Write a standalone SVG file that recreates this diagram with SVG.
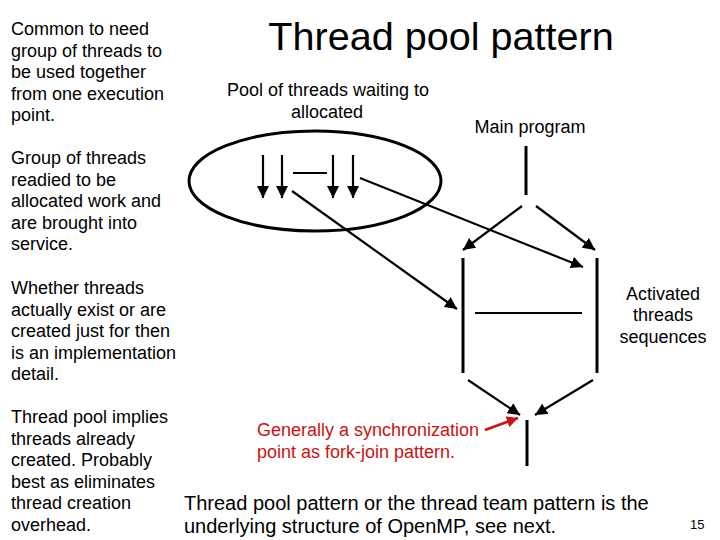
<svg xmlns="http://www.w3.org/2000/svg" width="720" height="540" viewBox="0 0 720 540">
<style>
text{font-family:"Liberation Sans",Arial,sans-serif;fill:#000}
.t18{font-size:18px}
.red{fill:#cc1111}
.ln{stroke:#000;stroke-width:3;fill:none}
.ar{stroke:#000;stroke-width:2.2;fill:none;marker-end:url(#ah)}
.arr{stroke:#cc1111;stroke-width:2.5;fill:none;marker-end:url(#ahr)}
</style>
<defs>
<marker id="ah" viewBox="0 0 10 10" refX="10" refY="5" markerWidth="5.5" markerHeight="5.5" orient="auto" markerUnits="strokeWidth">
<path d="M0,0 L10,5 L0,10 z" fill="#000"/>
</marker>
<marker id="ahr" viewBox="0 0 10 10" refX="10" refY="5" markerWidth="4.5" markerHeight="4.5" orient="auto" markerUnits="strokeWidth">
<path d="M0,0 L10,5 L0,10 z" fill="#cc1111"/>
</marker>
</defs>
<rect width="720" height="540" fill="#fff"/>
<g id="title"><text x="441" y="50" font-size="39.6" text-anchor="middle">Thread pool pattern</text></g>
<g id="note1" class="t18">
<text x="11" y="35">Common to need</text>
<text x="11" y="56.5">group of threads to</text>
<text x="11" y="78">be used together</text>
<text x="11" y="99.5">from one execution</text>
<text x="11" y="121">point.</text>
</g>
<g id="note2" class="t18">
<text x="11" y="164">Group of threads</text>
<text x="11" y="185.5">readied to be</text>
<text x="11" y="207">allocated work and</text>
<text x="11" y="228.5">are brought into</text>
<text x="11" y="250">service.</text>
</g>
<g id="note3" class="t18">
<text x="11" y="294">Whether threads</text>
<text x="11" y="315.5">actually exist or are</text>
<text x="11" y="337">created just for then</text>
<text x="11" y="358.5">is an implementation</text>
<text x="11" y="380">detail.</text>
</g>
<g id="note4" class="t18">
<text x="11" y="423">Thread pool implies</text>
<text x="11" y="444.5">threads already</text>
<text x="11" y="466">created. Probably</text>
<text x="11" y="487.5">best as eliminates</text>
<text x="11" y="509">thread creation</text>
<text x="11" y="530.5">overhead.</text>
</g>
<g id="pool-label" class="t18">
<text x="328" y="96" text-anchor="middle">Pool of threads waiting to</text>
<text x="327" y="117.5" text-anchor="middle">allocated</text>
</g>
<g id="pool">
<ellipse cx="315" cy="181" rx="126" ry="50" class="ln"/>
<line x1="263" y1="155" x2="263" y2="198" class="ar"/>
<line x1="282" y1="155" x2="282" y2="198" class="ar"/>
<line x1="333" y1="155" x2="333" y2="198" class="ar"/>
<line x1="353" y1="155" x2="353" y2="198" class="ar"/>
<line x1="293" y1="173" x2="327" y2="173" stroke="#000" stroke-width="2"/>
</g>
<g id="main-label"><text x="530" y="133" class="t18" text-anchor="middle">Main program</text></g>
<g id="main-program">
<line x1="526" y1="146" x2="526" y2="195" class="ln"/>
</g>
<g id="threads">
<line x1="463" y1="258" x2="463" y2="373" class="ln"/>
<line x1="597" y1="258" x2="597" y2="373" class="ln"/>
<line x1="475" y1="313" x2="582" y2="313" stroke="#000" stroke-width="2"/>
</g>
<g id="activated-label" class="t18">
<text x="663" y="299.5" text-anchor="middle">Activated</text>
<text x="663" y="321" text-anchor="middle">threads</text>
<text x="663" y="343" text-anchor="middle">sequences</text>
</g>
<g id="join-line"><line x1="527" y1="420" x2="527" y2="466" class="ln"/></g>
<g id="connectors">
<line x1="522" y1="206" x2="463" y2="250" class="ar"/>
<line x1="536" y1="206" x2="595" y2="250" class="ar"/>
<line x1="292" y1="191" x2="457" y2="309" class="ar"/>
<line x1="360" y1="178" x2="583" y2="267" class="ar"/>
<line x1="468" y1="380" x2="520" y2="415" class="ar"/>
<line x1="593" y1="380" x2="535" y2="415" class="ar"/>
<line x1="485" y1="430" x2="518" y2="418" class="arr"/>
</g>
<g id="sync-label" class="t18">
<text x="257" y="436" class="red">Generally a synchronization</text>
<text x="257" y="458" class="red">point as fork-join pattern.</text>
</g>
<g id="footer">
<text x="184" y="510" font-size="20">Thread pool pattern or the thread team pattern is the</text>
<text x="184" y="533" font-size="20">underlying structure of OpenMP, see next.</text>
<text x="690" y="529" font-size="13">15</text>
</g>
</svg>
